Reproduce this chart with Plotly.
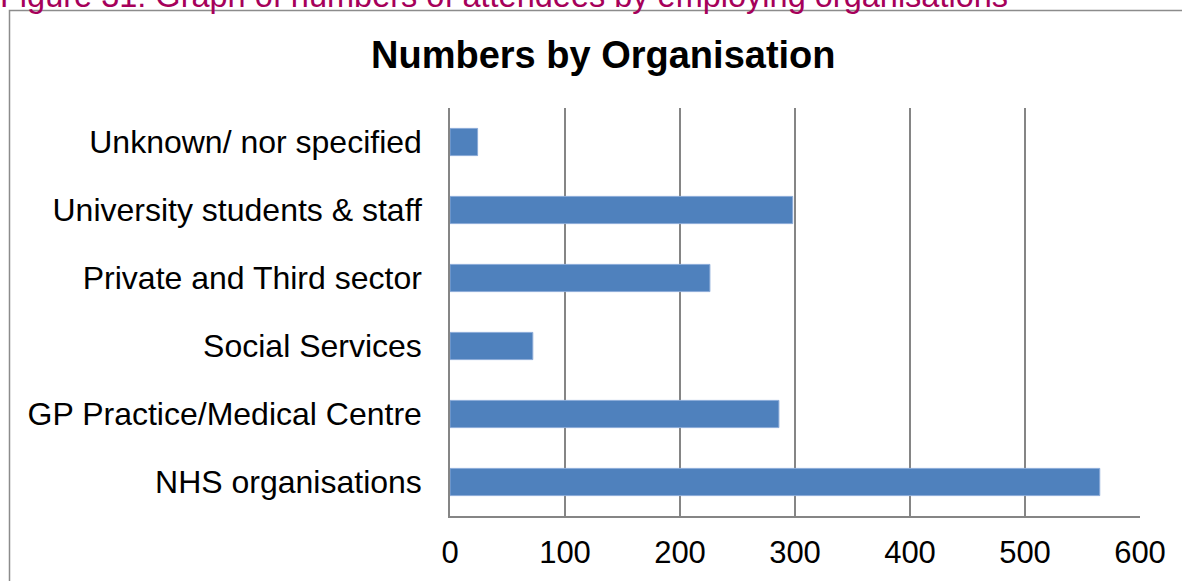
import plotly.graph_objects as go

categories = [
    "Unknown/ nor specified",
    "University students & staff",
    "Private and Third sector",
    "Social Services",
    "GP Practice/Medical Centre",
    "NHS organisations",
]
values = [24, 298, 226, 72, 286, 565]
x_ticks = [0, 100, 200, 300, 400, 500, 600]

W, H = 1182, 581
ML, MR, MT, MB = 450, 42, 108, 65
PW = W - ML - MR
PH = H - MT - MB


def px(x):
    return (x - ML) / PW


def py(y):
    return (H - MB - y) / PH


FONT = "Arial, Liberation Sans, sans-serif"
GRID = "#858585"

fig = go.Figure(
    go.Bar(
        x=values,
        y=categories,
        orientation="h",
        marker=dict(color="#4F81BD", line=dict(color="#8AAAD8", width=1)),
    )
)

fig.update_layout(
    width=W,
    height=H,
    margin=dict(l=ML, r=MR, t=MT, b=MB, autoexpand=False),
    paper_bgcolor="white",
    plot_bgcolor="white",
    bargap=0.6,
    showlegend=False,
    font=dict(family=FONT, color="black"),
)

fig.update_xaxes(
    range=[0, 600],
    tickvals=x_ticks,
    ticktext=[str(v) for v in x_ticks],
    showgrid=True,
    gridcolor=GRID,
    gridwidth=1.5,
    zeroline=False,
    showline=True,
    linecolor=GRID,
    linewidth=1.5,
    mirror=False,
    ticks="",
    automargin=False,
    tickfont=dict(size=31, family=FONT, color="black"),
    ticklabelstandoff=8,
)
fig.update_yaxes(
    autorange="reversed",
    showgrid=False,
    zeroline=False,
    showline=True,
    linecolor=GRID,
    linewidth=1.5,
    ticks="",
    automargin=False,
    tickfont=dict(size=32, family=FONT, color="black"),
    ticklabelstandoff=20,
)

# chart border box (extends beyond the visible area, as in the reference)
fig.add_shape(
    type="rect",
    xref="paper",
    yref="paper",
    x0=px(9.5),
    x1=px(1300),
    y0=py(10.5),
    y1=py(800),
    line=dict(color="#8C8C8C", width=1.5),
    fillcolor="rgba(0,0,0,0)",
    layer="below",
)

fig.add_annotation(
    text="<b>Numbers by Organisation</b>",
    xref="paper",
    yref="paper",
    x=px(603),
    y=py(55),
    xanchor="center",
    yanchor="middle",
    showarrow=False,
    font=dict(size=38, family=FONT, color="black"),
)

fig.add_annotation(
    text="Figure 31: Graph of numbers of attendees by employing organisations",
    xref="paper",
    yref="paper",
    x=px(-2),
    y=py(-4),
    xanchor="left",
    yanchor="middle",
    showarrow=False,
    font=dict(size=32.5, family=FONT, color="#A6005A"),
)

fig.write_html("out.html")
